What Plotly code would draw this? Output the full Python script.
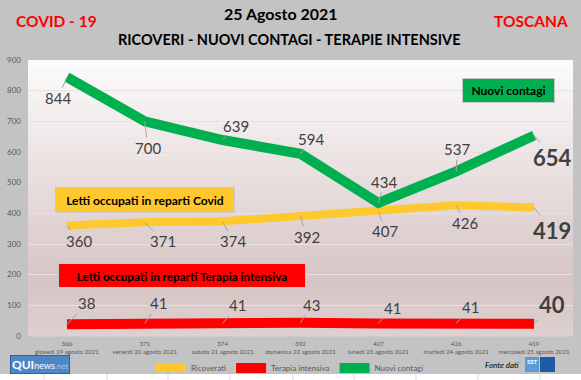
import plotly.graph_objects as go

# ---------------- data ----------------
dates = ["giovedì 19 agosto 2021", "venerdì 20 agosto 2021", "sabato 21 agosto 2021",
         "domenica 22 agosto 2021", "lunedì 23 agosto 2021", "martedì 24 agosto 2021",
         "mercoledì 25 agosto 2021"]
ricoverati = [360, 371, 374, 392, 407, 426, 419]
terapia_intensiva = [38, 41, 41, 43, 41, 41, 40]
nuovi_contagi = [844, 700, 639, 594, 434, 537, 654]
y_ticks = [0, 100, 200, 300, 400, 500, 600, 700, 800, 900]

# label offsets (px) for the data labels (style only)
off_green = [(-9, 21), (3, 27), (13, -14), (10, -15), (6, -21), (1, -22), (18, 22)]
off_yellow = [(12, 15), (18, 19), (10, 20), (6, 21), (7, 20), (9, 18), (18, 23)]
off_red = [(20, -21), (14, -20), (15, -18), (11, -18), (14, -15), (14, -16), (18, -19)]

FONT = "Lato, 'Open Sans', sans-serif"
GREEN = "#00b050"
YELLOW = "#ffc82c"
RED = "#ff0000"
LABEL = "#404040"
GRAYTXT = "#595959"

W_PX, H_PX = 581, 380
L, R, T, B = 28, 573, 60, 336
PW, PH = R - L, B - T


def fx(px):
    return (px - L) / PW


def fy(py):
    return (B - py) / PH


ticktext = [f"{r}<br>{d}" for r, d in zip(ricoverati, dates)]

fig = go.Figure()
fig.add_trace(go.Scatter(x=dates, y=ricoverati, mode="lines", name="Ricoverati",
                         line=dict(color=YELLOW, width=8), hoverinfo="skip"))
fig.add_trace(go.Scatter(x=dates, y=terapia_intensiva, mode="lines", name="Terapia intensiva",
                         line=dict(color=RED, width=10), hoverinfo="skip"))
fig.add_trace(go.Scatter(x=dates, y=nuovi_contagi, mode="lines", name="Nuovi contagi",
                         line=dict(color=GREEN, width=10), hoverinfo="skip"))

annotations = []


def add_labels(values, offs):
    n = len(values)
    for i, (d, v, (ax, ay)) in enumerate(zip(dates, values, offs)):
        last = i == n - 1
        annotations.append(dict(
            x=d, y=v, xref="x", yref="y",
            text=f"<b>{v}</b>" if last else str(v),
            showarrow=True, arrowhead=0, arrowwidth=1, arrowcolor="#a6a6a6",
            ax=ax, ay=ay, standoff=0, xanchor="center", yanchor="middle",
            font=dict(family=FONT, size=22 if last else 15, color=LABEL),
        ))


add_labels(nuovi_contagi, off_green)
add_labels(ricoverati, off_yellow)
add_labels(terapia_intensiva, off_red)


def ptext(text, cx, cy, size, color, **kw):
    d = dict(x=fx(cx), y=fy(cy), xref="paper", yref="paper", showarrow=False,
             xanchor="center", yanchor="middle", text=text,
             font=dict(family=FONT, size=size, color=color))
    d.update(kw)
    annotations.append(d)


def box(text, cx, cy, w, h, bg, size=12):
    ptext(f"<b>{text}</b>", cx, cy, size, "#000000", bgcolor=bg, bordercolor="#c8c8c8",
          borderwidth=1, width=w, height=h, align="center", valign="middle")


box("Nuovi contagi", 508.5, 90.5, 89, 21, GREEN)
box("Letti occupati in reparti Covid", 145, 200, 176, 22, YELLOW)
box("Letti occupati in reparti Terapia intensiva", 182, 275.5, 244, 21, RED, 11.7)

# titles
ptext("<b>25 Agosto 2021</b>", 281, 14, 16, "#000000")
ptext("<b>RICOVERI - NUOVI CONTAGI - TERAPIE INTENSIVE</b>", 289, 39, 14.5, "#000000")
ptext("<b>COVID - 19</b>", 56, 21, 15.5, "#ff0000")
ptext("<b>TOSCANA</b>", 531, 21, 15.5, "#ff0000")
# QUInews logo
ptext("<b>QUI</b><span style='font-size:9px'>news</span><span style='font-size:8px;color:#a8c6ec'>.net</span>",
      40, 364, 12, "#ffffff", bgcolor="#4f86c6", bordercolor="#2f5f9c", borderwidth=1, borderpad=1)
ptext("<i>Fonte dati</i>", 502, 365, 8, "#000000")
ptext("<b>SST</b>", 532, 361, 6, "#ffffff")

# plot-area gradient (style)
shapes = []
stops = [(0.0, (252, 251, 251)), (0.45, (232, 221, 221)), (0.8, (215, 197, 197)), (1.0, (222, 208, 208))]


def col(t):
    for (t0, c0), (t1, c1) in zip(stops[:-1], stops[1:]):
        if t0 <= t <= t1:
            f = (t - t0) / (t1 - t0)
            return "rgb(%d,%d,%d)" % tuple(round(a + (b - a) * f) for a, b in zip(c0, c1))
    return "rgb(%d,%d,%d)" % stops[-1][1]


N = 60
for k in range(N):
    t = (k + 0.5) / N
    shapes.append(dict(type="rect", xref="paper", yref="paper", x0=0, x1=1,
                       y0=1 - (k + 1) / N - 0.002, y1=1 - k / N,
                       fillcolor=col(t), line=dict(width=0), layer="below"))

# bottom white strip with spreadsheet cell lines
shapes.append(dict(type="rect", xref="paper", yref="paper", x0=fx(0), x1=fx(581),
                   y0=fy(380), y1=fy(374), fillcolor="#ffffff", line=dict(width=0), layer="below"))
for cx in [44, 107, 168, 230, 293, 354, 416, 478, 540]:
    shapes.append(dict(type="line", xref="paper", yref="paper", x0=fx(cx), x1=fx(cx),
                       y0=fy(380), y1=fy(374), line=dict(color="#d9d9d9", width=1), layer="below"))
# SST logo boxes
shapes.append(dict(type="rect", xref="paper", yref="paper", x0=fx(525), x1=fx(539),
                   y0=fy(372), y1=fy(357), fillcolor="#5a9bd8", line=dict(width=0)))
shapes.append(dict(type="rect", xref="paper", yref="paper", x0=fx(540), x1=fx(555),
                   y0=fy(372), y1=fy(357), fillcolor="#1f5aa6", line=dict(width=0)))

fig.update_layout(
    width=W_PX, height=H_PX,
    margin=dict(l=L, r=W_PX - R, t=T, b=H_PX - B, pad=0, autoexpand=False),
    paper_bgcolor="#c3c3c3", plot_bgcolor="rgba(0,0,0,0)",
    font=dict(family=FONT, color=GRAYTXT),
    showlegend=True,
    legend=dict(orientation="h", x=fx(290), y=fy(368), xanchor="center", yanchor="middle",
                font=dict(family=FONT, size=8, color=GRAYTXT), bgcolor="rgba(0,0,0,0)",
                itemwidth=30, tracegroupgap=0),
    xaxis=dict(type="category", tickmode="array", tickvals=dates, ticktext=ticktext,
               range=[-0.5, len(dates) - 0.5], automargin=False,
               tickfont=dict(family=FONT, size=6.2, color=GRAYTXT), showgrid=False,
               showline=False, zeroline=False, ticks="", ticklabelstandoff=3, fixedrange=True),
    yaxis=dict(range=[0, 900], tickmode="array", tickvals=y_ticks, automargin=False,
               tickfont=dict(family=FONT, size=8, color=GRAYTXT), showgrid=True,
               gridcolor="#e8e0e0", gridwidth=1, zeroline=False, showline=False,
               ticks="", ticklabelstandoff=6, fixedrange=True),
    annotations=annotations,
    shapes=shapes,
)

fig.write_html("out.html", config={"displayModeBar": False},
               post_script="document.body.style.margin='0px';document.body.style.padding='0px';")
